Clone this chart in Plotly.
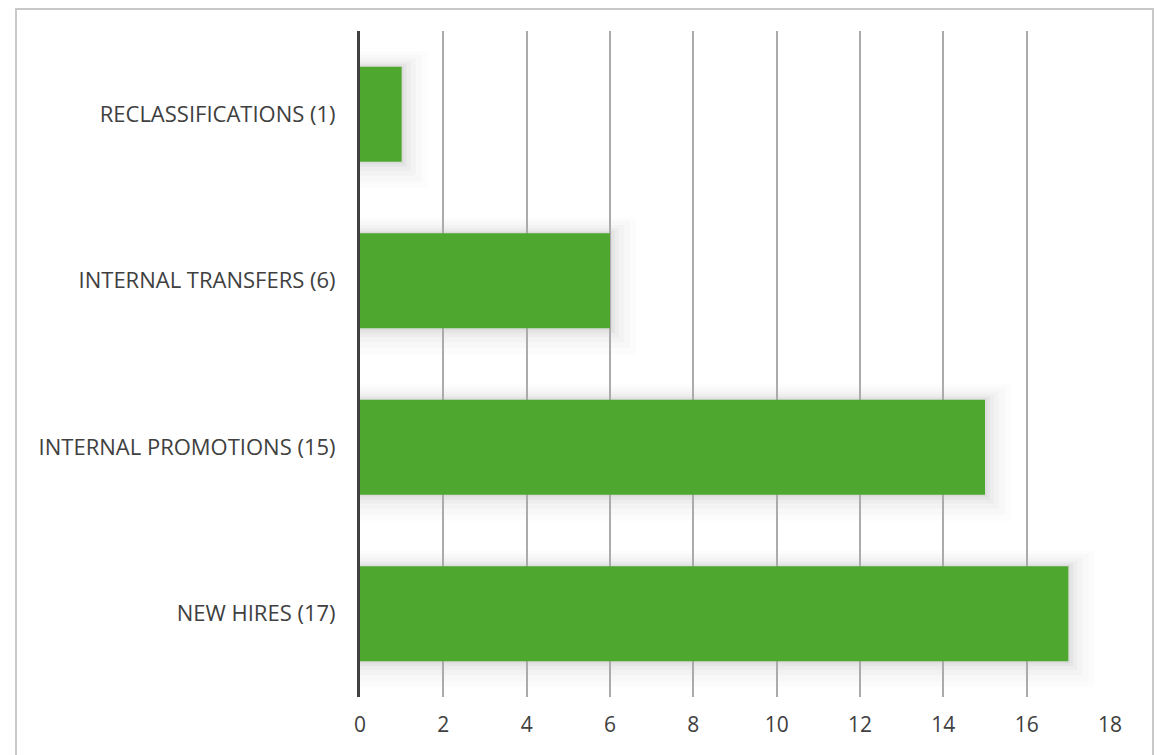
import plotly.graph_objects as go

categories = ["NEW HIRES (17)", "INTERNAL PROMOTIONS (15)", "INTERNAL TRANSFERS (6)", "RECLASSIFICATIONS (1)"]
values = [17, 15, 6, 1]
tick_vals = [0, 2, 4, 6, 8, 10, 12, 14, 16, 18]

GREEN = "#4EA72E"
TEXT = "#404040"

W, H = 1168, 755
# page body has an 8px margin, so figure coords are screen coords minus 8
L, R, T, B = 352, 66, 23, 66
pw = W - L - R
ph = H - T - B

fig = go.Figure()
fig.add_trace(go.Bar(
    y=categories, x=values, orientation="h",
    marker=dict(color=GREEN, line=dict(width=0)),
    hoverinfo="x+y",
))

shapes = []
# soft shadows behind bars
bar_half = 0.285
for i, v in enumerate(values):
    for ex, op in [(26, 0.012), (20, 0.016), (14, 0.02), (9, 0.025), (5, 0.03), (2, 0.035)]:
        dx = ex / pw * 18.0
        dy = ex / (ph / 4.0)
        shapes.append(dict(type="rect", xref="x", yref="y", layer="below",
                           x0=0, x1=v + dx,
                           y0=i - bar_half - dy, y1=i + bar_half + dy * 0.6,
                           fillcolor="black", opacity=op, line=dict(width=0)))
# chart border
shapes.append(dict(type="rect", xref="paper", yref="paper",
                   x0=(8 - L) / pw, x1=(1145 - L) / pw,
                   y0=-(820 - (H - B)) / ph, y1=1 + (T - 1) / ph,
                   line=dict(color="#C8C8C8", width=2), fillcolor="rgba(0,0,0,0)", layer="below"))

FONT = "Open Sans, Noto Sans, sans-serif"

fig.update_layout(
    width=W, height=H,
    margin=dict(l=L, r=R, t=T, b=B, autoexpand=False),
    paper_bgcolor="white", plot_bgcolor="white",
    bargap=0.43,
    showlegend=False,
    font=dict(family=FONT, size=22, color=TEXT),
    shapes=shapes,
    xaxis=dict(range=[0, 18], tickvals=tick_vals, showgrid=True, gridcolor="#ABABAB",
               gridwidth=1.5, zeroline=False, showline=False, ticks="", automargin=False,
               ticklabelstandoff=13, tickfont=dict(family=FONT, size=21, color=TEXT), fixedrange=True),
    yaxis=dict(showgrid=False, zeroline=False, showline=True, linecolor=TEXT, linewidth=3,
               ticks="", automargin=False,
               ticklabelstandoff=17, tickfont=dict(family=FONT, size=22, color=TEXT), fixedrange=True),
)

fig.write_html("out.html")
